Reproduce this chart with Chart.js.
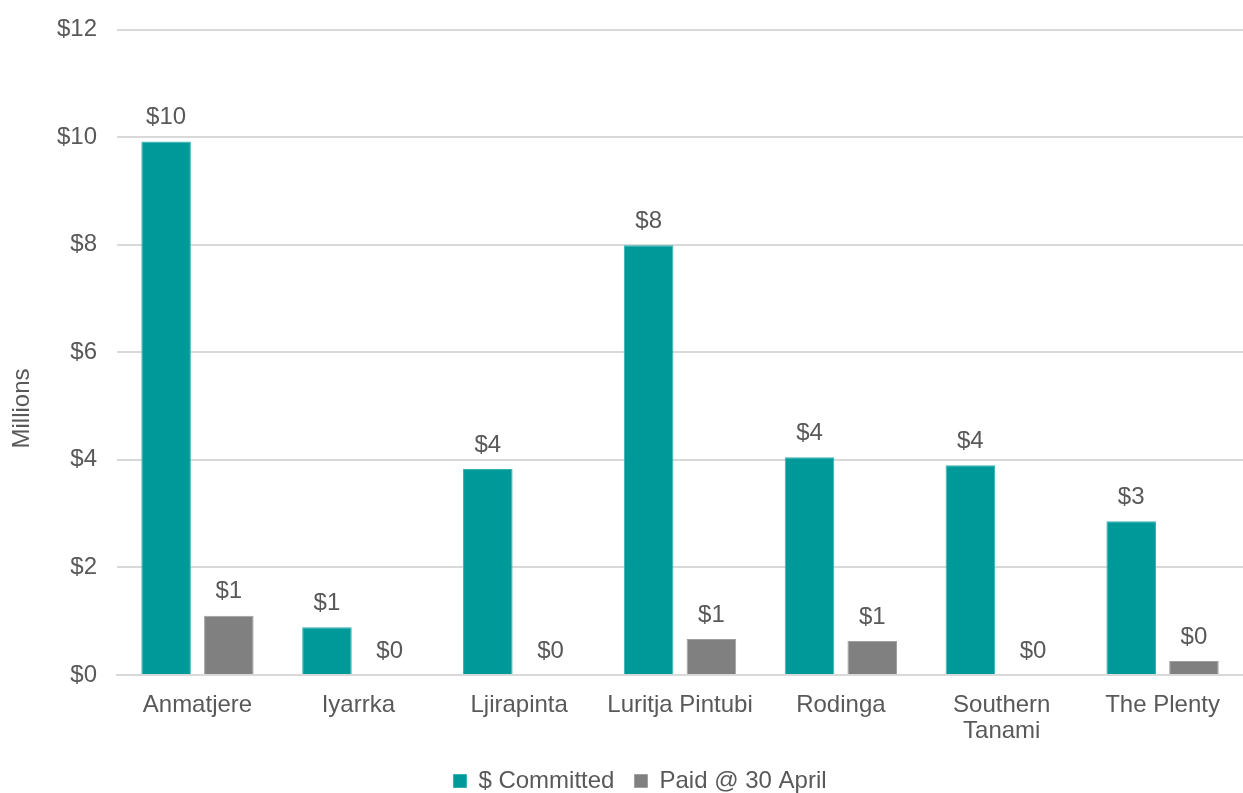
<!DOCTYPE html>
<html>
<head>
<meta charset="utf-8">
<script src="https://cdn.jsdelivr.net/npm/chart.js@4/dist/chart.umd.min.js"></script>
<style>
    html, body { margin: 0; padding: 0; background: #ffffff; }
    #wrap { width: 1243px; height: 793px; }
</style>
</head>
<body>
<div id="wrap"><canvas id="fundChart"></canvas></div>
<script>
// DATA (millions of dollars)
const regions = [
    "Anmatjere",
    "Iyarrka",
    "Ljirapinta",
    "Luritja Pintubi",
    "Rodinga",
    ["Southern", "Tanami"],
    "The Plenty"
];
const committed = [9.92, 0.89, 3.83, 7.99, 4.05, 3.90, 2.86];
const paid = [1.10, 0, 0, 0.67, 0.63, 0, 0.26];
const yTicks = [0, 2, 4, 6, 8, 10, 12];
const yTitle = "Millions";

const textColor = "#595959";
const fontFamily = "'Liberation Sans', Arial, sans-serif";

/* -------------------------
   VALUE LABELS + AXIS TITLE
--------------------------*/
const valueLabels = {
    id: "valueLabels",
    afterDatasetsDraw(chart) {
        const ctx = chart.ctx;
        ctx.save();
        ctx.fillStyle = textColor;
        ctx.font = "24px " + fontFamily;
        ctx.textAlign = "center";
        ctx.textBaseline = "bottom";
        chart.data.datasets.forEach((ds, i) => {
            chart.getDatasetMeta(i).data.forEach((bar, j) => {
                ctx.fillText("$" + Math.round(ds.data[j]), bar.x, bar.y - 12);
            });
        });

        // vertical title, sits a bit below the plot's middle like the original
        ctx.translate(22, chart.height / 2 + 12);
        ctx.rotate(-Math.PI / 2);
        ctx.textBaseline = "middle";
        ctx.fillText(yTitle, 0, 0);
        ctx.restore();
    }
};

new Chart(document.getElementById("fundChart"), {
    type: "bar",
    data: {
        labels: regions,
        datasets: [
            {
                label: "$ Committed",
                data: committed,
                backgroundColor: "#009999",
                borderColor: "#33b3b3",
                borderWidth: 1
            },
            {
                label: "Paid @ 30 April",
                data: paid,
                backgroundColor: "#808080",
                borderColor: "#a0a0a0",
                borderWidth: 1
            }
        ]
    },
    options: {
        responsive: true,
        maintainAspectRatio: false,
        animation: false,
        categoryPercentage: 0.78,
        barPercentage: 0.79,
        layout: { padding: { top: 27, right: 0, left: 37, bottom: -10 } },
        plugins: {
            legend: {
                position: "bottom",
                labels: {
                    color: textColor,
                    font: { size: 24, family: fontFamily },
                    boxWidth: 13,
                    boxHeight: 13,
                    padding: 20
                }
            },
            tooltip: { enabled: false }
        },
        scales: {
            x: {
                grid: { display: false },
                border: { color: "#d9d9d9", width: 2 },
                ticks: {
                    color: textColor,
                    font: { size: 24, family: fontFamily, lineHeight: 1.1 },
                    padding: 9,
                    maxRotation: 0
                },
                afterFit(scale) {
                    scale.height = 74;
                }
            },
            y: {
                min: 0,
                max: 12,
                afterBuildTicks(axis) {
                    axis.ticks = yTicks.map(v => ({ value: v }));
                },
                grid: { color: "#d9d9d9", lineWidth: 2, drawTicks: false },
                border: { display: false },
                ticks: {
                    color: textColor,
                    font: { size: 24, family: fontFamily, lineHeight: 0.8 },
                    padding: 20,
                    callback: v => "$" + v
                }
            }
        }
    },
    plugins: [valueLabels]
});
</script>
</body>
</html>
